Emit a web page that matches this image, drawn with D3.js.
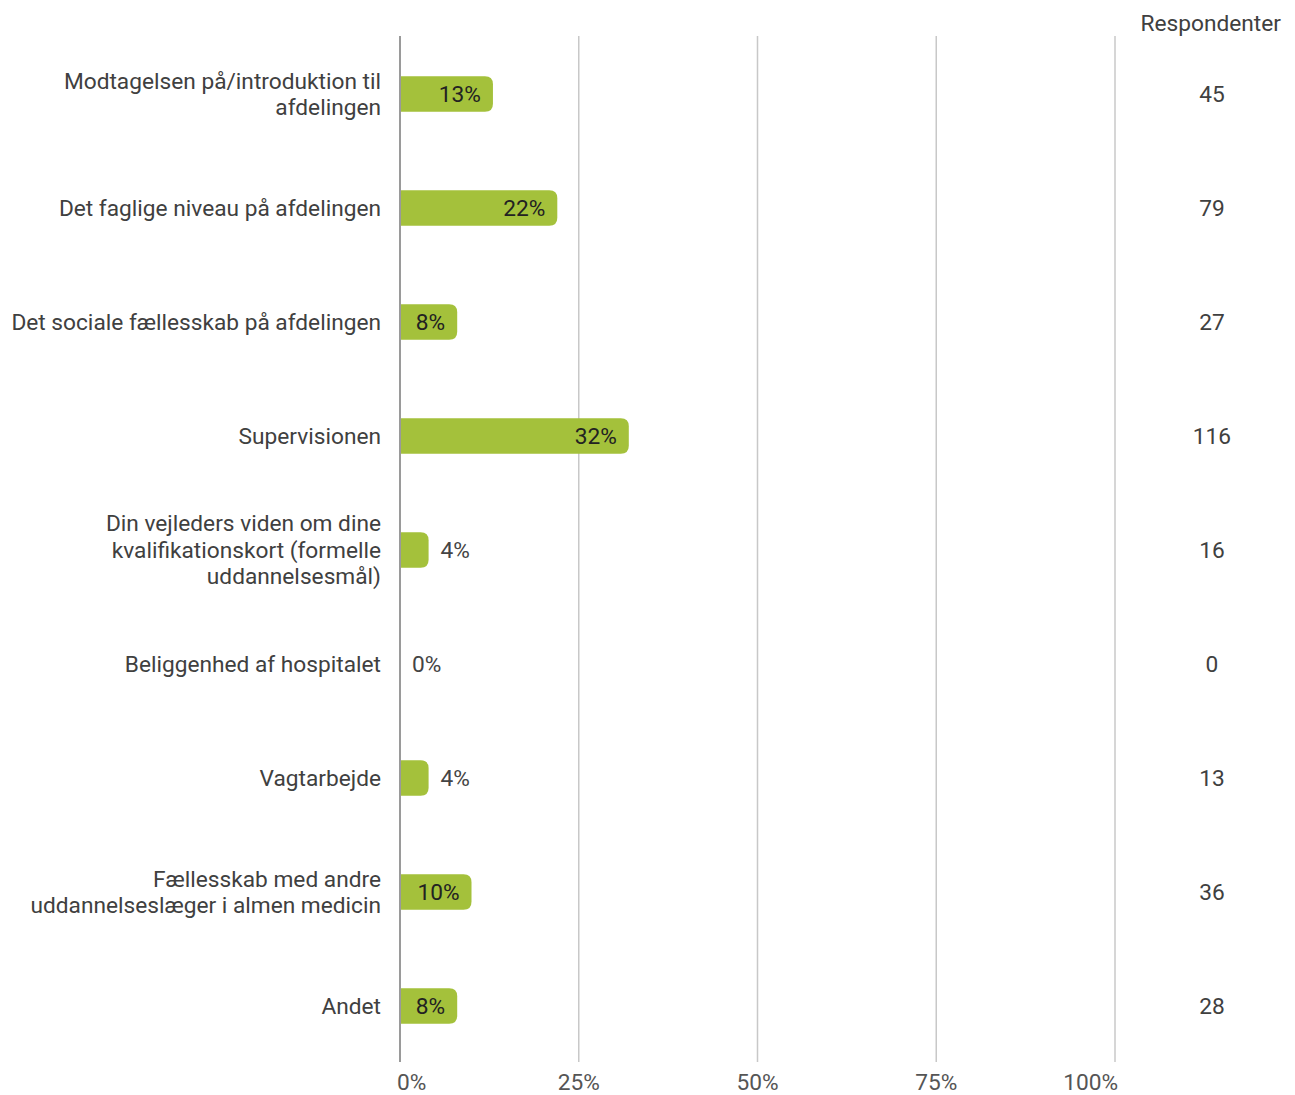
<!DOCTYPE html>
<html>
<head>
<meta charset="utf-8">
<script src="https://cdn.jsdelivr.net/npm/d3@7"></script>
<style>
  body { margin: 0; background: #fff; }
  svg text { font-family: Roboto, "Noto Sans", sans-serif; }
</style>
</head>
<body>
<svg id="chart" width="1295" height="1095"></svg>
<script>
// Category labels (line breaks as shown on the chart)
const categories = [
  ["Modtagelsen på/introduktion til", "afdelingen"],
  ["Det faglige niveau på afdelingen"],
  ["Det sociale fællesskab på afdelingen"],
  ["Supervisionen"],
  ["Din vejleders viden om dine", "kvalifikationskort (formelle", "uddannelsesmål)"],
  ["Beliggenhed af hospitalet"],
  ["Vagtarbejde"],
  ["Fællesskab med andre", "uddannelseslæger i almen medicin"],
  ["Andet"]
];
// Share of respondents (%)
const shares = [13, 22, 8, 32, 4, 0, 4, 10, 8];
// Number of respondents
const respondents = [45, 79, 27, 116, 16, 0, 13, 36, 28];
// Axis ticks
const ticks = [0, 25, 50, 75, 100];
const tickLabels = ["0%", "25%", "50%", "75%", "100%"];

const svg = d3.select("#chart");
const barColor = "#a4c13b";
const textColor = "#404040";
const fs = 22.7;

const x = d3.scaleLinear().domain([0, 100]).range([400, 1115]);
const y = d3.scaleBand().domain(d3.range(categories.length)).range([37, 1063]).paddingInner(0.69).paddingOuter(0.345);

// Gridlines
svg.append("g").selectAll("line").data(ticks.slice(1)).join("line")
  .attr("x1", d => x(d)).attr("x2", d => x(d))
  .attr("y1", 36).attr("y2", 1062)
  .attr("stroke", "#c8c8c8").attr("stroke-width", 1.5);

// Tick labels
svg.append("g").selectAll("text").data(ticks).join("text")
  .attr("x", (d, i) => i === 0 ? x(d) - 3 : i === ticks.length - 1 ? x(d) + 3 : x(d))
  .attr("y", 1082)
  .attr("dy", "0.35em")
  .attr("text-anchor", (d, i) => i === 0 ? "start" : i === ticks.length - 1 ? "end" : "middle")
  .attr("fill", "#555").attr("font-size", fs)
  .text((d, i) => tickLabels[i]);

// Bars with rounded right end
const r = 8;
function barPath(i) {
  const x0 = x(0), x1 = x(shares[i]), y0 = y(i), h = y.bandwidth();
  const w = x1 - x0;
  if (w <= 0) return "";
  const rr = Math.min(r, w, h / 2);
  return `M${x0},${y0}H${x1 - rr}Q${x1},${y0} ${x1},${y0 + rr}V${y0 + h - rr}Q${x1},${y0 + h} ${x1 - rr},${y0 + h}H${x0}Z`;
}
svg.append("g").selectAll("path").data(shares).join("path")
  .attr("d", (d, i) => barPath(i))
  .attr("fill", barColor);

// Zero axis line
svg.append("line")
  .attr("x1", x(0)).attr("x2", x(0)).attr("y1", 36).attr("y2", 1062)
  .attr("stroke", "#9a9a9a").attr("stroke-width", 2);

// Value labels: inside bar if wide enough, otherwise after it
const fits = d => x(d) - x(0) > 50;
svg.append("g").selectAll("text").data(shares).join("text")
  .attr("x", d => fits(d) ? x(d) - 12 : x(d) + 12)
  .attr("y", (d, i) => y(i) + y.bandwidth() / 2)
  .attr("dy", "0.35em")
  .attr("text-anchor", d => fits(d) ? "end" : "start")
  .attr("fill", d => fits(d) ? "#222" : "#444")
  .attr("font-size", fs)
  .text(d => d + "%");

// Category labels
const lineH = 26.5;
const catG = svg.append("g").selectAll("text").data(categories).join("text")
  .attr("text-anchor", "end")
  .attr("fill", textColor)
  .attr("font-size", fs);
catG.each(function(lines, i) {
  const cy = y(i) + y.bandwidth() / 2;
  const top = cy - (lines.length - 1) * lineH / 2;
  d3.select(this).selectAll("tspan").data(lines).join("tspan")
    .attr("x", 381)
    .attr("y", (l, j) => top + j * lineH)
    .attr("dy", "0.35em")
    .text(l => l);
});

// Respondents column
svg.append("text")
  .attr("x", 1281).attr("y", 23).attr("dy", "0.35em")
  .attr("text-anchor", "end")
  .attr("fill", textColor).attr("font-size", fs)
  .text("Respondenter");
svg.append("g").selectAll("text").data(respondents).join("text")
  .attr("x", 1212)
  .attr("y", (d, i) => y(i) + y.bandwidth() / 2)
  .attr("dy", "0.35em")
  .attr("text-anchor", "middle")
  .attr("fill", textColor).attr("font-size", fs)
  .text(d => d);
</script>
</body>
</html>
